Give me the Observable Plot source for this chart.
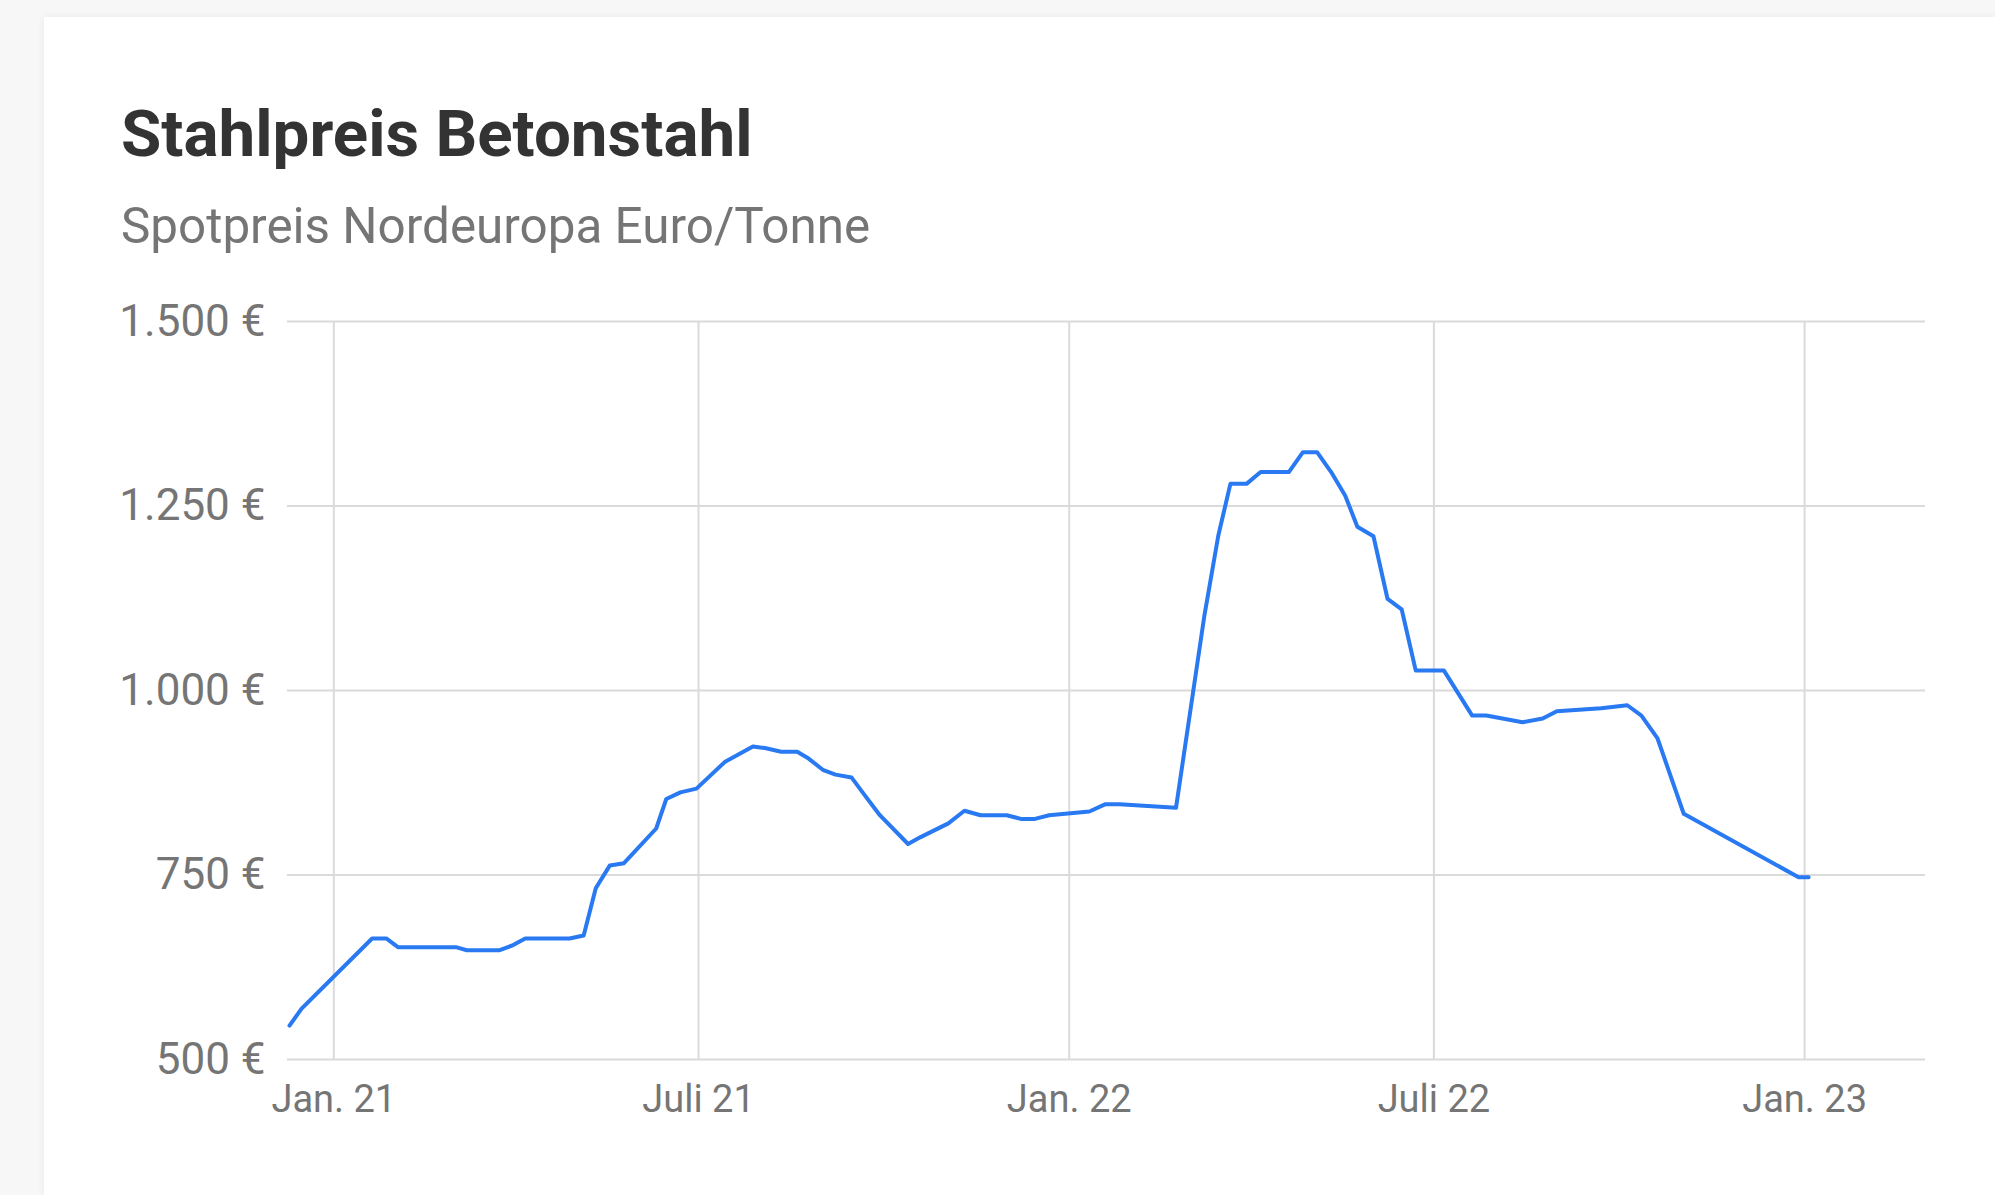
<!DOCTYPE html>
<html><head><meta charset="utf-8">
<script src="https://cdn.jsdelivr.net/npm/d3@7"></script>
<script src="https://cdn.jsdelivr.net/npm/@observablehq/plot@0.6"></script>
<style>
html,body{margin:0;padding:0;width:1995px;height:1195px;overflow:hidden;background:#f7f7f7;font-family:Roboto,"Noto Sans",sans-serif;}
#card{position:absolute;left:44px;top:17px;right:0;bottom:0;background:#fff;box-shadow:0 0 8px rgba(0,0,0,0.06);}
#title{position:absolute;left:121px;top:101px;font-size:65.5px;line-height:65.5px;font-weight:700;color:#333;white-space:nowrap;}
#subtitle{position:absolute;left:121px;top:202px;font-size:49.4px;line-height:49.4px;color:#757575;white-space:nowrap;}
#chart{position:absolute;left:0;top:260px;}
</style></head><body>
<div id="card"></div>
<div id="title">Stahlpreis Betonstahl</div>
<div id="subtitle">Spotpreis Nordeuropa Euro/Tonne</div>
<div id="chart"></div>
<script>
const dates = ["2020-12-10","2020-12-16","2021-01-20","2021-01-27","2021-02-02","2021-03-03","2021-03-08","2021-03-24","2021-03-31","2021-04-06","2021-04-28","2021-05-05","2021-05-11","2021-05-18","2021-05-25","2021-06-10","2021-06-15","2021-06-22","2021-06-30","2021-07-14","2021-07-28","2021-08-03","2021-08-11","2021-08-19","2021-08-24","2021-09-01","2021-09-07","2021-09-15","2021-09-21","2021-09-29","2021-10-13","2021-10-19","2021-11-02","2021-11-10","2021-11-18","2021-12-01","2021-12-08","2021-12-15","2021-12-22","2022-01-11","2022-01-19","2022-01-26","2022-02-23","2022-03-09","2022-03-16","2022-03-22","2022-03-30","2022-04-06","2022-04-20","2022-04-27","2022-05-04","2022-05-11","2022-05-18","2022-05-24","2022-06-01","2022-06-08","2022-06-15","2022-06-22","2022-07-06","2022-07-20","2022-07-27","2022-08-14","2022-08-24","2022-08-31","2022-09-22","2022-10-05","2022-10-12","2022-10-20","2022-11-02","2022-12-29","2023-01-03"];
const prices = [546,569,664,664,652,652,648,648,655,664,664,668,732,763,766,813,853,862,867,903,924,922,917,917,909,892,886,882,860,831,792,801,820,837,831,831,826,826,831,836,846,846,841,1100,1210,1280,1280,1296,1296,1323,1323,1296,1264,1222,1209,1124,1110,1027,1027,966,966,957,962,972,976,980,966,935,833,747,747];
const yTicks = [500, 750, 1000, 1250, 1500];
const xTickDates = ["2021-01-01","2021-07-01","2022-01-01","2022-07-01","2023-01-01"];
const xTickLabels = ["Jan. 21","Juli 21","Jan. 22","Juli 22","Jan. 23"];
const xDomain = ["2020-12-09","2023-03-02"];
const yDomain = [500, 1500];

const data = dates.map((d, i) => ({date: new Date(d), price: prices[i]}));
const xt = xTickDates.map(d => new Date(d));
const de = d3.formatLocale({decimal: ",", thousands: ".", grouping: [3], currency: ["", " €"]});
const fmt = de.format(",");

const chart = Plot.plot({
  width: 1995, height: 935,
  marginLeft: 287, marginRight: 70, marginTop: 61, marginBottom: 136,
  style: {fontFamily: "Roboto, sans-serif", background: "transparent", color: "#757575"},
  x: {type: "utc", domain: xDomain.map(d => new Date(d)), label: null},
  y: {domain: yDomain, label: null},
  marks: [
    Plot.gridY(yTicks, {stroke: "#dadada", strokeOpacity: 1, strokeWidth: 2}),
    Plot.gridX(xt, {stroke: "#dadada", strokeOpacity: 1, strokeWidth: 2}),
    Plot.axisY(yTicks, {tickSize: 0, tickPadding: 22, tickFormat: d => fmt(d) + " €", fontSize: 44, fill: "#757575", label: null}),
    Plot.axisX(xt, {tickSize: 0, tickPadding: 26, tickFormat: d => xTickLabels[xt.findIndex(t => +t === +d)], fontSize: 38, fill: "#757575", label: null}),
    Plot.line(data, {x: "date", y: "price", stroke: "#2979f2", strokeWidth: 4})
  ]
});
document.getElementById("chart").appendChild(chart);
</script>
</body></html>
